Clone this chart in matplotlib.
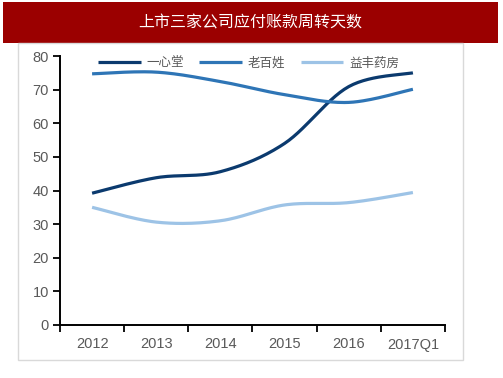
import matplotlib.pyplot as plt
import numpy as np
from matplotlib.patches import Rectangle

plt.rcParams['font.family'] = ['Noto Sans CJK SC', 'DejaVu Sans']

years = ['2012', '2013', '2014', '2015', '2016', '2017Q1']
yixintang = [39.2, 43.8, 45.6, 54.0, 70.9, 75.0]
laobaixing = [74.7, 75.2, 72.4, 68.5, 66.2, 70.1]
yifeng = [35.0, 30.6, 31.0, 35.7, 36.4, 39.4]
names = ['一心堂', '老百姓', '益丰药房']
colors = ['#0b3a6e', '#2e75b6', '#9dc3e6']


def smooth(x, y, n=30):
    # catmull-rom style smoothing like excel's smoothed line
    x = np.asarray(x, float)
    y = np.asarray(y, float)
    px = np.concatenate([[x[0]], x, [x[-1]]])
    py = np.concatenate([[y[0]], y, [y[-1]]])
    xs, ys = [], []
    t = np.linspace(0, 1, n)
    for i in range(1, len(px) - 2):
        p0, p1, p2, p3 = [np.array([px[j], py[j]]) for j in range(i - 1, i + 3)]
        c1 = p1 + (p2 - p0) / 6
        c2 = p2 - (p3 - p1) / 6
        pts = ((1 - t) ** 3)[:, None] * p1 + (3 * (1 - t) ** 2 * t)[:, None] * c1 \
            + (3 * (1 - t) * t ** 2)[:, None] * c2 + (t ** 3)[:, None] * p2
        xs.extend(pts[:, 0])
        ys.extend(pts[:, 1])
    return xs, ys


fig = plt.figure(figsize=(5.03, 3.78), dpi=100)
W, H = 503, 378

# title bar
fig.patches.append(Rectangle((3 / W, 1 - 43 / H), 495 / W, 41 / H, transform=fig.transFigure,
                             facecolor='#9b0000', edgecolor='none'))
fig.text(250 / W, 1 - 23 / H, '上市三家公司应付账款周转天数', color='white', fontsize=11.5,
         ha='center', va='center')
# chart frame
fig.patches.append(Rectangle((18 / W, 1 - 360 / H), 445 / W, 317 / H, transform=fig.transFigure,
                             facecolor='none', edgecolor='#d9d9d9', linewidth=1))

ax = fig.add_axes([60 / W, 1 - 325 / H, 385 / W, 269 / H])
x = np.arange(len(years))
for vals, name, c in zip([yixintang, laobaixing, yifeng], names, colors):
    sx, sy = smooth(x, vals)
    ax.plot(sx, sy, color=c, linewidth=2.3, label=name, solid_capstyle='butt')

ax.set_xlim(-0.5, len(years) - 0.5)
ax.set_ylim(0, 80)
ax.set_yticks(range(0, 81, 10))
ax.set_xticks(x)
ax.set_xticklabels(years)
ax.set_xticks(np.arange(-0.5, len(years), 1), minor=True)
ax.tick_params(axis='x', which='major', length=0, pad=9, labelsize=10.5, labelcolor='#595959')
ax.tick_params(axis='x', which='minor', length=5, width=1.3, direction='out')
ax.tick_params(axis='y', length=5, width=1.3, labelsize=10.5, labelcolor='#595959', pad=3)
for lab in ax.get_xticklabels() + ax.get_yticklabels():
    lab.set_family('Liberation Sans')
for s in ['top', 'right']:
    ax.spines[s].set_visible(False)
for s in ['left', 'bottom']:
    ax.spines[s].set_linewidth(1.4)

leg = ax.legend(loc='upper center', bbox_to_anchor=(0.49, 1.04), ncol=3, frameon=False,
                fontsize=9, handlelength=3.4, columnspacing=1.2, handletextpad=0.5)
for t in leg.get_texts():
    t.set_color('#595959')

fig.savefig('out.png', dpi=100)
